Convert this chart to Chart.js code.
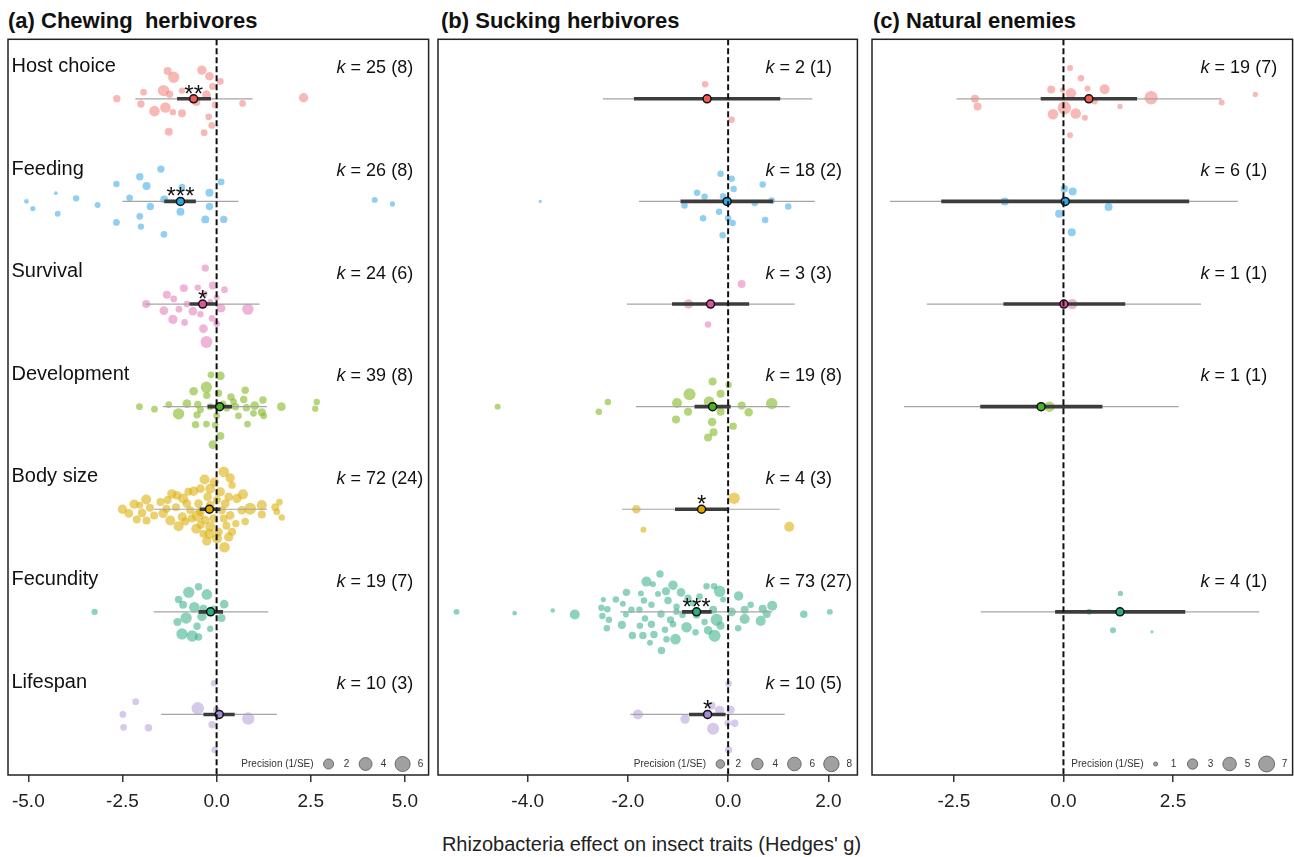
<!DOCTYPE html>
<html>
<head>
<meta charset="utf-8">
<script src="https://cdn.jsdelivr.net/npm/chart.js@4.4.0/dist/chart.umd.min.js"></script>
<style>
body{margin:0;background:#fff;width:1294px;height:857px;position:relative;overflow:hidden;font-family:"Liberation Sans",Arial,sans-serif}
canvas{position:absolute;top:0}
.title{position:absolute;top:8px;font-weight:bold;font-size:22px;white-space:pre;color:#111}
#xtitle{position:absolute;left:0;width:1303px;text-align:center;top:833px;font-size:20px;color:#222}
</style>
</head>
<body>
<div class="title" style="left:8px">(a) Chewing  herbivores</div>
<div class="title" style="left:441px">(b) Sucking herbivores</div>
<div class="title" style="left:873px">(c) Natural enemies</div>
<div id="xtitle">Rhizobacteria effect on insect traits (Hedges' g)</div>
<canvas id="chartA"></canvas>
<canvas id="chartB"></canvas>
<canvas id="chartC"></canvas>
<script>
// traits, top to bottom
const traits = ['Host choice', 'Feeding', 'Survival', 'Development', 'Body size', 'Fecundity', 'Lifespan'];

// effect sizes: [Hedges' g, jitter (rows), precision 1/SE]
// (a) chewing herbivores
const chewHost = [[-1.30,-0.27,1.0],[-1.14,-0.21,2.8],[-0.39,-0.28,1.6],[-0.19,-0.22,1.3],[0.10,-0.17,0.6],[-0.11,-0.12,0.6],[-1.94,-0.065,0.6],[-1.41,-0.08,2.8],[-1.25,-0.045,0.8],[-0.92,-0.08,0.5],[-0.27,-0.04,1.3],[-2.65,0,0.8],[-0.54,0.03,1.0],[2.31,-0.01,1.6],[0.69,0.045,0.6],[-0.04,0.06,0.6],[-2.01,0.05,0.8],[-1.65,0.12,2.3],[-1.36,0.085,2.3],[-1.16,0.13,0.5],[-0.92,0.14,1.0],[-0.21,0.175,0.6],[-0.13,0.26,0.6],[-1.27,0.32,1.0],[-0.33,0.33,0.6]];
const chewFeed = [[-1.48,-0.315,0.8],[-2.04,-0.24,0.8],[-2.66,-0.17,0.5],[-1.86,-0.15,1.0],[-0.92,-0.14,0.6],[0.12,-0.19,0.6],[-4.27,-0.08,0.2],[-3.73,-0.03,0.5],[-2.31,-0.035,0.6],[-0.19,-0.085,1.0],[-5.05,0,0.25],[-4.88,0.07,0.3],[-4.22,0.12,0.4],[-3.16,0.035,0.4],[-1.76,0.05,0.8],[-1.39,-0.02,1.0],[-0.96,0.10,1.0],[-0.19,0.05,0.8],[4.20,-0.015,0.4],[4.67,0.025,0.3],[-2.04,0.145,0.6],[-0.30,0.175,1.0],[0.19,0.175,0.8],[-2.66,0.205,0.6],[-2.01,0.245,0.5],[-1.40,0.32,0.6]];
const chewSurv = [[-0.30,-0.35,0.8],[-0.87,-0.155,1.0],[-0.50,-0.16,0.5],[-0.10,-0.18,1.0],[0.21,-0.14,0.6],[-1.32,-0.09,1.0],[-1.14,-0.05,0.6],[-0.33,-0.10,0.6],[-1.87,0,1.0],[-1.40,0.065,1.3],[-1.00,0.05,0.6],[-0.63,0.07,1.3],[0.12,0.04,1.3],[0.83,0.05,2.8],[-1.16,0.15,1.6],[-0.85,0.18,0.6],[-0.12,0.14,0.6],[0.0,0.19,0.6],[-0.35,0.24,1.3],[-0.27,0.37,3.2],[0.0,-0.065,0.4],[-0.79,0,0.6],[-0.17,-0.02,0.4],[-0.43,0.1,0.5]];
const chewDev = [[-0.15,-0.31,0.6],[0.10,-0.30,1.3],[-0.27,-0.19,2.8],[-0.61,-0.15,1.3],[-0.26,-0.11,0.8],[0.05,-0.13,0.8],[0.38,-0.095,0.8],[0.76,-0.16,0.8],[0.72,-0.07,0.8],[1.23,-0.065,0.8],[2.66,-0.045,0.5],[2.62,0.02,0.5],[-2.05,0,0.6],[-1.65,0.025,0.6],[-1.27,-0.02,0.6],[-0.79,-0.03,1.3],[-0.50,-0.02,0.8],[-1.01,0.07,2.8],[-0.52,0.08,0.8],[-0.17,0,0.6],[0.50,0,0.8],[0.79,0.01,0.8],[1.01,-0.01,1.3],[1.72,0,1.3],[1.20,0.055,1.0],[1.25,0.09,0.6],[0.27,0.015,0.6],[0.0,0.09,0.6],[0.58,0.09,0.6],[-0.56,0.175,0.8],[-0.27,0.17,0.6],[-0.04,0.18,0.6],[0.82,0.17,0.6],[0.10,0.285,1.0],[-0.10,0.37,1.3],[0.17,-0.03,0.5],[-0.43,0.03,0.6],[0.45,-0.05,0.6],[0.98,0.065,0.6]];
const chewBody = [[-2.50,0,1.6],[-2.33,0.04,1.3],[-2.19,-0.05,1.6],[-1.98,0.035,1.3],[-1.87,-0.095,2.0],[-2.04,-0.04,0.6],[-1.77,-0.015,1.0],[-2.12,0.1,1.0],[-1.86,0.11,1.0],[-1.42,0.04,1.6],[-1.30,-0.09,1.0],[-1.19,-0.15,1.6],[-1.23,0.11,2.0],[-1.01,0.165,2.0],[-0.89,-0.105,2.0],[-0.79,-0.055,1.3],[-0.91,0.075,1.6],[-0.83,0.12,1.0],[-0.61,-0.175,1.6],[-0.43,-0.2,1.3],[-0.32,-0.29,2.0],[-0.17,-0.2,2.0],[-0.48,-0.055,1.3],[-0.50,0.065,3.2],[-0.54,0.19,2.0],[-0.42,0.15,1.0],[-0.17,0.17,2.0],[-0.19,0.24,2.0],[-0.26,0.31,1.6],[0.01,0.285,2.0],[0.21,0.37,2.3],[0.32,0.27,1.6],[0.26,0.16,1.0],[0.19,-0.365,2.3],[0.36,-0.305,1.6],[-0.06,-0.265,1.6],[0.41,-0.235,0.8],[0.10,-0.17,1.6],[0.32,-0.12,1.3],[0.54,-0.105,1.6],[0.70,-0.145,2.0],[0.23,-0.055,1.3],[0.01,-0.09,1.0],[-0.24,-0.12,1.3],[0.89,-0.005,3.2],[0.67,0.01,1.3],[1.20,-0.04,2.0],[1.20,0.05,1.0],[0.76,0.12,0.8],[0.51,0.14,0.8],[0.36,0.06,1.3],[0.19,0.09,1.0],[1.56,-0.02,1.0],[1.67,-0.07,0.6],[1.60,0.025,0.6],[1.73,0.08,0.5],[-0.70,0.01,1.0],[-0.66,0.09,1.0],[-0.43,0.025,1.3],[-1.08,-0.02,1.0],[-1.33,-0.005,1.0],[-0.30,0.105,1.3],[-0.08,0.09,1.3],[-0.17,-0.04,1.3],[0.14,0.01,1.0],[0.41,0.22,1.0],[0.05,0.22,1.3],[-0.35,0.24,1.0],[-0.75,-0.17,1.0],[-1.05,-0.135,1.3],[-1.49,-0.07,1.0],[-1.66,0.06,1.0]];
const chewFec = [[-3.24,0,0.5],[-0.48,-0.245,0.8],[-0.74,-0.19,2.8],[-0.26,-0.17,2.3],[-1.01,-0.12,0.8],[-0.89,-0.07,1.0],[-0.59,-0.045,2.3],[0.20,-0.075,1.3],[-0.35,-0.03,1.0],[-0.08,-0.02,1.3],[-0.81,0.06,2.8],[-0.39,0.045,1.6],[0.13,0.06,1.0],[-1.04,0.10,1.0],[-0.52,0.14,0.8],[-0.17,0.165,0.5],[-0.92,0.215,2.8],[-0.65,0.235,2.8],[-0.48,0.245,0.8]];
const chewLife = [[-0.07,-0.305,0.5],[-2.15,-0.125,0.6],[-0.50,-0.06,3.6],[-0.01,-0.045,0.6],[-2.49,0,0.6],[-2.47,0.125,0.6],[-1.81,0.13,0.8],[-0.12,0.10,0.8],[0.84,0.04,3.6],[-0.05,0.345,0.6]];
const chewMean = [-0.61, -0.96, -0.37, 0.08, -0.19, -0.16, 0.07];
const chewCiLo = [-1.05, -1.39, -0.72, -0.24, -0.45, -0.48, -0.35];
const chewCiHi = [-0.15, -0.55, 0.01, 0.41, 0.10, 0.17, 0.48];
const chewPiLo = [-2.16, -2.50, -1.89, -1.43, -1.67, -1.67, -1.47];
const chewPiHi = [0.96, 0.58, 1.14, 1.34, 1.34, 1.37, 1.60];
const chewK = [25, 26, 24, 39, 72, 19, 10];
const chewStudies = [8, 8, 6, 8, 24, 7, 3];
const chewStars = ['**', '***', '*', '', '', '', ''];

// (b) sucking herbivores
const suckHost = [[-0.46,-0.143,1.0],[0.07,0.205,1.0]];
const suckFeed = [[-3.75,0,0.25],[-0.15,-0.27,1.0],[0.07,-0.22,1.0],[0.11,-0.12,1.0],[0.69,-0.165,1.0],[-0.62,-0.085,1.0],[-0.47,-0.045,1.0],[-0.10,-0.05,1.0],[-0.87,0.04,1.0],[-0.18,0.10,1.0],[-0.50,0.165,1.0],[0.0,0.165,1.0],[0.09,0.21,1.0],[0.74,0.18,1.0],[0.53,0.016,1.0],[0.87,-0.01,1.0],[1.20,0.05,1.0],[-0.11,0.33,1.0]];
const suckSurv = [[0.27,-0.195,1.7],[-0.79,0,2.5],[-0.40,0.2,1.0]];
const suckDev = [[-4.60,0,0.8],[-2.40,-0.045,1.0],[-2.58,0.05,1.0],[-0.31,-0.245,1.7],[0.01,-0.21,1.0],[-0.77,-0.12,4.5],[-1.02,-0.035,2.9],[-0.38,-0.05,3.3],[-0.15,-0.125,1.7],[-0.80,0.05,1.7],[-0.15,0.05,1.7],[0.27,-0.01,1.7],[0.41,0.055,2.0],[0.87,-0.03,4.0],[-1.04,0.125,1.7],[-0.32,0.15,2.0],[0.10,0.19,1.4],[-0.29,0.25,1.7],[-0.40,0.30,1.7]];
const suckBody = [[0.12,-0.107,4.0],[-1.83,0,2.0],[-1.69,0.20,0.8],[1.22,0.17,2.9]];
const suckFec = [[-5.42,0,0.8],[-4.26,0.013,0.45],[-3.50,-0.013,0.45],[-3.06,0.026,2.9],[-2.49,-0.12,0.6],[-2.53,-0.04,1.0],[-2.41,-0.026,1.0],[-2.51,0.04,1.0],[-2.38,0.078,1.0],[-2.42,0.16,1.0],[-2.24,-0.12,1.0],[-2.10,-0.078,0.8],[-2.03,-0.19,1.4],[-2.04,0.026,0.8],[-2.12,0.127,1.7],[-1.91,0.23,1.4],[-1.77,-0.02,1.0],[-1.74,-0.18,0.8],[-1.68,-0.11,1.0],[-1.63,-0.295,2.9],[-1.36,-0.37,1.4],[-1.50,-0.27,0.8],[-1.24,-0.2,1.7],[-1.10,-0.26,2.5],[-1.40,-0.175,0.8],[-1.53,-0.07,1.0],[-1.66,0.065,1.0],[-1.76,0.136,1.0],[-1.70,0.23,1.4],[-1.56,0.3,0.8],[-1.53,0.12,1.4],[-1.48,0.22,1.4],[-1.34,0.02,1.4],[-1.33,0.377,1.4],[-1.26,0.175,1.0],[-1.23,0.266,1.0],[-1.20,-0.11,1.4],[-1.15,0.078,1.4],[-1.05,0.266,3.3],[-1.03,-0.05,1.0],[-0.94,-0.19,2.0],[-0.83,0.15,3.3],[-0.91,0.03,1.0],[-0.80,-0.133,1.4],[-0.65,0.2,1.0],[-0.63,0.03,1.4],[-0.40,0.18,2.0],[-0.27,0.234,4.5],[-0.47,0.1,1.0],[-0.17,-0.2,4.0],[-0.28,-0.25,1.0],[-0.10,-0.12,0.8],[-0.15,0.136,1.7],[-0.23,0.078,4.5],[-0.30,-0.02,1.7],[0.07,0.0,2.0],[0.21,-0.155,2.5],[0.20,0.16,1.0],[0.33,-0.02,1.7],[0.33,0.07,2.9],[0.45,-0.07,1.0],[0.65,0.088,2.9],[0.69,-0.03,1.7],[0.77,0.02,1.7],[0.88,-0.06,2.9],[1.51,0.023,1.4],[2.03,0,0.8],[-1.03,0,1.0],[-1.93,-0.02,1.0],[-0.57,-0.15,1.0],[-0.70,-0.085,1.0],[-0.43,-0.25,1.0],[-1.10,0.12,1.0]];
const suckLife = [[0.01,-0.30,1.0],[-1.80,0,2.9],[-0.33,-0.085,1.7],[-0.17,-0.04,2.5],[0.05,-0.045,1.7],[-0.86,0.045,2.5],[-0.30,0.14,4.5],[-0.01,0.085,1.0],[0.13,0.085,1.4],[0.01,0.345,1.4]];
const suckMean = [-0.42, -0.02, -0.35, -0.31, -0.53, -0.63, -0.41];
const suckCiLo = [-1.88, -0.95, -1.12, -0.67, -1.06, -0.92, -0.78];
const suckCiHi = [1.04, 0.90, 0.42, 0.05, -0.01, -0.33, -0.05];
const suckPiLo = [-2.50, -1.78, -2.02, -1.84, -2.12, -2.15, -1.95];
const suckPiHi = [1.68, 1.73, 1.33, 1.23, 1.03, 0.88, 1.13];
const suckK = [2, 18, 3, 19, 4, 73, 10];
const suckStudies = [1, 2, 3, 8, 3, 27, 5];
const suckStars = ['', '', '', '', '*', '***', '*'];

// (c) natural enemies
const enemyHost = [[0.15,-0.30,1.36],[0.40,-0.20,1.5],[-0.28,-0.09,1.97],[-0.02,-0.085,1.2],[0.17,-0.055,3.1],[0.55,-0.10,1.36],[0.94,-0.094,2.84],[0.71,0.026,1.36],[-2.02,0,1.97],[-1.96,0.075,1.97],[0.02,0.088,4.9],[-0.24,0.15,3.1],[0.28,0.143,3.1],[0.49,0.185,1.36],[1.29,0.075,1.2],[2.0,-0.01,4.9],[3.61,0.036,1.36],[4.38,-0.042,1.2],[0.15,0.354,1.36]];
const enemyFeed = [[0.02,-0.123,1.75],[0.21,-0.097,1.97],[-1.34,0,1.97],[1.03,0.055,1.97],[-0.10,0.12,1.97],[0.19,0.30,1.97]];
const enemySurv = [[0.20,0,3.1]];
const enemyDev = [[-0.32,0,3.1]];
const enemyBody = [];
const enemyFec = [[1.30,-0.18,1.2],[0.59,0,1.36],[1.13,0.18,1.36],[2.02,0.195,0.94]];
const enemyLife = [];
const enemyMean = [0.58, 0.04, 0.01, -0.51, null, 1.29, null];
const enemyCiLo = [-0.52, -2.79, -1.37, -1.90, null, -0.19, null];
const enemyCiHi = [1.68, 2.87, 1.41, 0.89, null, 2.78, null];
const enemyPiLo = [-2.44, -3.96, -3.12, -3.64, null, -1.89, null];
const enemyPiHi = [3.61, 3.98, 3.14, 2.63, null, 4.47, null];
const enemyK = [19, 6, 1, 1, null, 4, null];
const enemyStudies = [7, 1, 1, 1, null, 1, null];
const enemyStars = ['', '', '', '', '', '', ''];

// x ticks and precision legend breaks
const ticksA = [-5, -2.5, 0, 2.5, 5];
const ticksB = [-4, -2, 0, 2];
const ticksC = [-2.5, 0, 2.5];
const breaksA = [2, 4, 6];
const breaksB = [2, 4, 6, 8];
const breaksC = [1, 3, 5, 7];

const pointColors = ['rgba(243,128,122,0.55)', 'rgba(86,182,234,0.65)', 'rgba(228,132,190,0.6)', 'rgba(135,188,45,0.62)', 'rgba(220,176,15,0.6)', 'rgba(62,178,140,0.58)', 'rgba(192,172,222,0.65)'];
const meanColors = ['#EE5D55', '#2AAAE2', '#E0509E', '#4DB02A', '#DDA500', '#26B085', '#A58BD0'];

Chart.defaults.font.family = '"Liberation Sans", Arial, sans-serif';
const FONT = '"Liberation Sans", Arial, sans-serif';

function sizeFn(a, k, pmin) {
  return p => a + k * Math.sqrt(Math.max(p - pmin, 0));
}

function buildDatasets(rows, mean, ciLo, ciHi, piLo, piHi, rad) {
  const ds = [];
  const r = c => (c.raw && c.raw.p !== undefined) ? rad(c.raw.p) : 0;
  rows.forEach((arr, i) => {
    if (arr.length) {
      ds.push({
        data: arr.map(d => ({x: d[0], y: i + d[1], p: d[2]})),
        pointBackgroundColor: pointColors[i], pointBorderWidth: 0,
        pointRadius: r, pointHoverRadius: r, order: 5
      });
    }
    if (mean[i] === null) return;
    ds.push({data: [{x: piLo[i], y: i}, {x: piHi[i], y: i}], showLine: true,
      borderColor: '#a5a5a5', borderWidth: 1.2, pointRadius: 0, order: 3});
    ds.push({data: [{x: ciLo[i], y: i}, {x: ciHi[i], y: i}], showLine: true,
      borderColor: '#3c3c3c', borderWidth: 3.6, pointRadius: 0, order: 2});
    ds.push({data: [{x: mean[i], y: i}], pointRadius: 4, pointBackgroundColor: meanColors[i],
      pointBorderColor: '#111', pointBorderWidth: 1.5, order: 1});
  });
  return ds;
}

function overlay(id, showTraits, mean, k, studies, stars, breaks, rad) {
  return {
    id: 'overlay' + id,
    afterDatasetsDraw(chart) {
      const {ctx, chartArea: a, scales: {x, y}} = chart;
      ctx.save();
      const x0 = x.getPixelForValue(0);
      ctx.setLineDash([6, 3]);
      ctx.lineWidth = 2;
      ctx.strokeStyle = '#111';
      ctx.beginPath(); ctx.moveTo(x0, a.top); ctx.lineTo(x0, a.bottom); ctx.stroke();
      ctx.setLineDash([]);
      ctx.lineWidth = 1.5;
      ctx.strokeStyle = '#222';
      ctx.strokeRect(a.left, a.top, a.right - a.left, a.bottom - a.top);

      ctx.fillStyle = '#111';
      ctx.textBaseline = 'middle';
      traits.forEach((t, i) => {
        const yl = y.getPixelForValue(i - 0.315);
        if (showTraits) {
          ctx.font = '20px ' + FONT;
          ctx.textAlign = 'left';
          ctx.fillText(t, a.left + 3.5, yl);
        }
        if (k[i] !== null) {
          const kx = a.right - 92;
          ctx.textAlign = 'left';
          ctx.font = 'italic 18px ' + FONT;
          ctx.fillText('k', kx, yl + 2);
          const w = ctx.measureText('k').width;
          ctx.font = '18px ' + FONT;
          ctx.fillText(' = ' + k[i] + ' (' + studies[i] + ')', kx + w, yl + 2);
        }
        if (stars[i]) {
          ctx.font = '24px ' + FONT;
          ctx.textAlign = 'center';
          ctx.textBaseline = 'alphabetic';
          ctx.fillText(stars[i], x.getPixelForValue(mean[i]), y.getPixelForValue(i) + 3);
          ctx.textBaseline = 'middle';
        }
      });

      // precision legend
      const ly = a.bottom - 11;
      const lastLabel = a.right - 8;
      let firstCircle = 0, firstR = 0;
      ctx.font = '10px ' + FONT;
      breaks.forEach((b, j) => {
        const lx = lastLabel - 37 * (breaks.length - 1 - j);
        const cx = lx - 18;
        const r = rad(b);
        if (j === 0) { firstCircle = cx; firstR = r; }
        ctx.beginPath(); ctx.arc(cx, ly, r, 0, Math.PI * 2);
        ctx.fillStyle = 'rgba(120,120,120,0.7)'; ctx.fill();
        ctx.lineWidth = 0.8; ctx.strokeStyle = '#555'; ctx.stroke();
        ctx.fillStyle = '#333';
        ctx.textAlign = 'center';
        ctx.fillText(String(b), lx, ly);
      });
      ctx.textAlign = 'right';
      ctx.fillText('Precision (1/SE)', firstCircle - firstR - 10, ly);
      ctx.restore();
    }
  };
}

function makeChart(id, left, right, xMin, xMax, tickVals, datasets, plugin) {
  const canvas = document.getElementById(id);
  const pad = 20;
  const w = right - left + 2 * pad;
  canvas.width = Math.round(w);
  canvas.height = 857;
  canvas.style.left = (left - pad) + 'px';
  canvas.style.width = Math.round(w) + 'px';
  canvas.style.height = '857px';
  const rightPad = Math.round(w) - pad - (right - left);
  new Chart(canvas, {
    type: 'scatter',
    data: {datasets},
    options: {
      responsive: false,
      animation: false,
      devicePixelRatio: 1,
      layout: {padding: {top: 39.3, left: pad, right: rightPad, bottom: 0}},
      plugins: {legend: {display: false}, tooltip: {enabled: false}},
      scales: {
        x: {
          type: 'linear', min: xMin, max: xMax,
          afterBuildTicks: s => { s.ticks = tickVals.map(v => ({value: v})); },
          afterFit: s => { s.height = 857 - 775; },
          grid: {drawOnChartArea: false, drawTicks: true, tickLength: 7, color: '#333', lineWidth: 1.5},
          border: {display: false},
          ticks: {callback: v => v.toFixed(1), color: '#222', font: {size: 19}, padding: 8, maxRotation: 0, autoSkip: false}
        },
        y: {type: 'linear', min: -0.58, max: 6.59, reverse: true, display: false}
      }
    },
    plugins: [plugin]
  });
}

const radA = sizeFn(1.9, 2.34, 0.2);
const radB = sizeFn(1.16, 2.343, 0.2);
const radC = sizeFn(1.12, 2.785, 0.9);

makeChart('chartA', 7.7, 428.3, -5.54, 5.63, ticksA,
  buildDatasets([chewHost, chewFeed, chewSurv, chewDev, chewBody, chewFec, chewLife], chewMean, chewCiLo, chewCiHi, chewPiLo, chewPiHi, radA),
  overlay('A', true, chewMean, chewK, chewStudies, chewStars, breaksA, radA));
makeChart('chartB', 438.3, 857.7, -5.79, 2.58, ticksB,
  buildDatasets([suckHost, suckFeed, suckSurv, suckDev, suckBody, suckFec, suckLife], suckMean, suckCiLo, suckCiHi, suckPiLo, suckPiHi, radB),
  overlay('B', false, suckMean, suckK, suckStudies, suckStars, breaksB, radB));
makeChart('chartC', 871.7, 1292.3, -4.37, 5.23, ticksC,
  buildDatasets([enemyHost, enemyFeed, enemySurv, enemyDev, enemyBody, enemyFec, enemyLife], enemyMean, enemyCiLo, enemyCiHi, enemyPiLo, enemyPiHi, radC),
  overlay('C', false, enemyMean, enemyK, enemyStudies, enemyStars, breaksC, radC));
</script>
</body>
</html>
